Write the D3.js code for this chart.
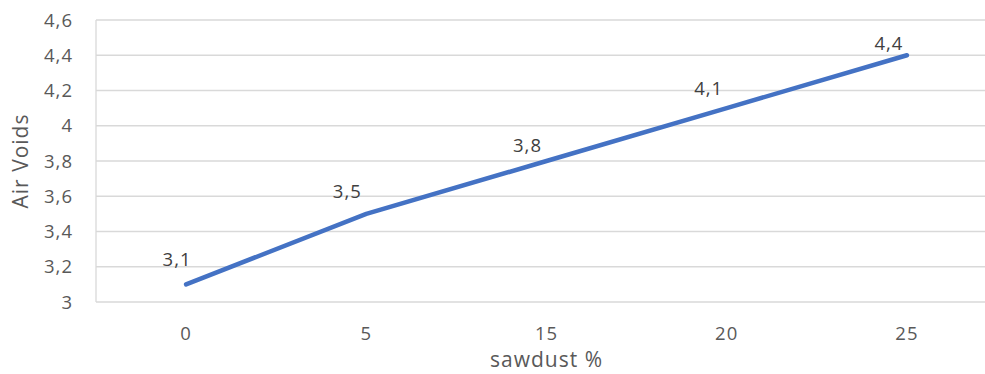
<!DOCTYPE html>
<html>
<head>
<meta charset="utf-8">
<script src="https://cdn.jsdelivr.net/npm/d3@7"></script>
<style>
  html, body { margin: 0; padding: 0; background: #fff; }
  svg { display: block; }
  text { font-family: "Open Sans", "Liberation Sans", sans-serif; fill: #595959; }
</style>
</head>
<body>
<svg id="chart" width="985" height="374"></svg>
<script>
// Sawdust content (%) and measured air voids
const categories = ["0", "5", "15", "20", "25"];
const airVoids = [3.1, 3.5, 3.8, 4.1, 4.4];
const yTicks = [3, 3.2, 3.4, 3.6, 3.8, 4, 4.2, 4.4, 4.6];
// Small per-label nudges (px) so data labels sit clear of the line
const labelNudge = [[-9, -18], [-19, -16], [-19, -9], [-18, -13], [-18, -5]];

const svg = d3.select("#chart");
const W = 985, H = 374;
const plot = { left: 96, right: 997, top: 20, bottom: 302 };

const x = d3.scaleBand().domain(categories).range([plot.left, plot.right]);
const y = d3.scaleLinear().domain([3, 4.6]).range([plot.bottom, plot.top]);
const fmt = v => String(v).replace(".", ",");
const cx = c => x(c) + x.bandwidth() / 2;

// Horizontal gridlines
svg.append("g").selectAll("line").data(yTicks).join("line")
  .attr("x1", plot.left).attr("x2", W)
  .attr("y1", d => y(d)).attr("y2", d => y(d))
  .attr("stroke", "#d9d9d9").attr("stroke-width", 1.3);

// Vertical axis line
svg.append("line")
  .attr("x1", plot.left).attr("x2", plot.left)
  .attr("y1", plot.top).attr("y2", plot.bottom)
  .attr("stroke", "#d9d9d9").attr("stroke-width", 1.3);

// Y tick labels
svg.append("g").selectAll("text").data(yTicks).join("text")
  .attr("x", 73).attr("y", d => y(d)).attr("dy", "0.36em")
  .attr("text-anchor", "end").attr("font-size", 18.5)
  .attr("letter-spacing", 1)
  .text(fmt);

// X tick labels
svg.append("g").selectAll("text").data(categories).join("text")
  .attr("x", d => cx(d)).attr("y", 340)
  .attr("text-anchor", "middle").attr("font-size", 18.5)
  .attr("letter-spacing", 1)
  .text(d => d);

// Line series
const line = d3.line()
  .x((d, i) => cx(categories[i]))
  .y(d => y(d));
svg.append("path").datum(airVoids)
  .attr("d", line)
  .attr("fill", "none").attr("stroke", "#4472c4")
  .attr("stroke-width", 4.5).attr("stroke-linecap", "round").attr("stroke-linejoin", "round");

// Data labels
svg.append("g").selectAll("text").data(airVoids).join("text")
  .attr("x", (d, i) => cx(categories[i]) + labelNudge[i][0])
  .attr("y", (d, i) => y(d) + labelNudge[i][1])
  .attr("text-anchor", "middle").attr("font-size", 18.5)
  .attr("letter-spacing", 1)
  .style("fill", "#404040")
  .text(fmt);

// Axis titles
svg.append("text")
  .attr("x", cx("15")).attr("y", 367)
  .attr("text-anchor", "middle").attr("font-size", 21)
  .attr("letter-spacing", 1)
  .text("sawdust %");
svg.append("text")
  .attr("transform", `translate(28,${(plot.top + plot.bottom) / 2}) rotate(-90)`)
  .attr("text-anchor", "middle").attr("font-size", 21)
  .attr("letter-spacing", 1)
  .text("Air Voids");
</script>
</body>
</html>
